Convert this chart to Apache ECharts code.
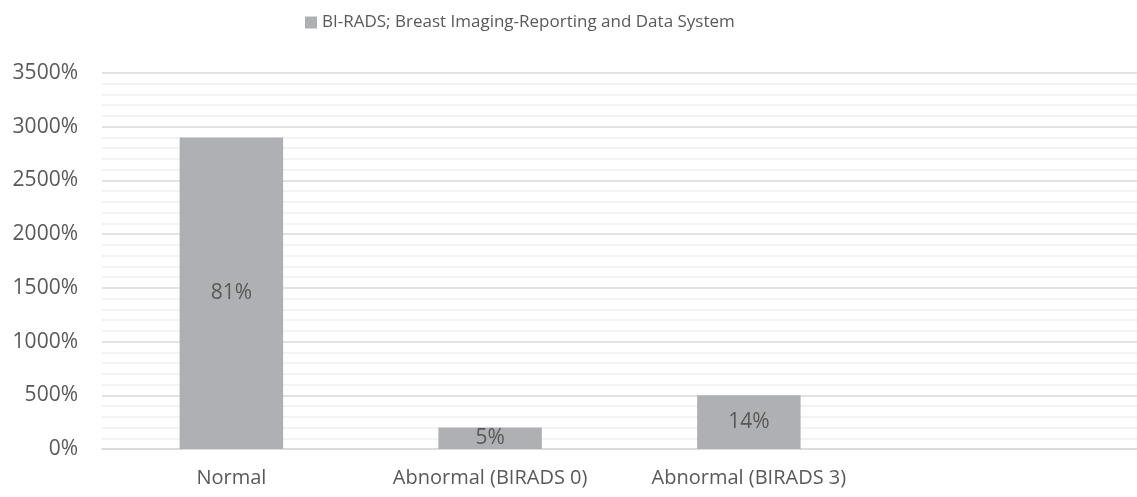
<!DOCTYPE html>
<html>
<head>
<meta charset="utf-8">
<script src="https://cdn.jsdelivr.net/npm/echarts@6/dist/echarts.min.js"></script>
<style>
  html, body { margin: 0; padding: 0; background: #fff; }
  #chart { width: 1137px; height: 497px; }
</style>
</head>
<body>
<div id="chart"></div>
<script>
// categories (last slot is empty in the original)
const categories = ['Normal', 'Abnormal (BIRADS 0)', 'Abnormal (BIRADS 3)', '']
const values = [2900, 200, 500, null]
const barLabels = ['81%', '5%', '14%', '']
const seriesName = 'BI-RADS; Breast Imaging-Reporting and Data System'

const chart = echarts.init(document.getElementById('chart'))

const option = {
  animation: false,
  textStyle: { fontFamily: 'Open Sans' },
  legend: {
    top: 9,
    left: 300,
    icon: 'rect',
    itemWidth: 12,
    itemHeight: 12,
    itemGap: 4,
    textStyle: { fontSize: 17, color: '#595959', fontFamily: 'Open Sans' },
    data: [seriesName]
  },
  grid: {
    left: 102,
    right: -8,
    top: 73,
    bottom: 48
  },
  xAxis: {
    type: 'category',
    data: categories,
    axisLine: { lineStyle: { color: '#d9d9d9', width: 1.5 } },
    axisTick: { show: false },
    axisLabel: {
      interval: 0,
      fontSize: 20,
      color: '#595959',
      margin: 19
    }
  },
  yAxis: {
    type: 'value',
    min: 0,
    max: 3500,
    interval: 500,
    axisLine: { show: false },
    axisTick: { show: false },
    axisLabel: {
      fontSize: 21,
      color: '#595959',
      margin: 24,
      formatter: v => v + '%'
    },
    splitLine: { lineStyle: { color: '#d9d9d9', width: 1.5 } },
    minorTick: { show: false, splitNumber: 5 },
    minorSplitLine: { show: true, lineStyle: { color: '#f0f0f0', width: 1.5 } }
  },
  series: [{
    name: seriesName,
    type: 'bar',
    data: values,
    barWidth: '40%',
    itemStyle: { color: '#afb0b3' },
    label: {
      show: true,
      position: 'inside',
      fontSize: 21,
      color: '#595959',
      formatter: p => barLabels[p.dataIndex]
    }
  }]
}

chart.setOption(option)
</script>
</body>
</html>
